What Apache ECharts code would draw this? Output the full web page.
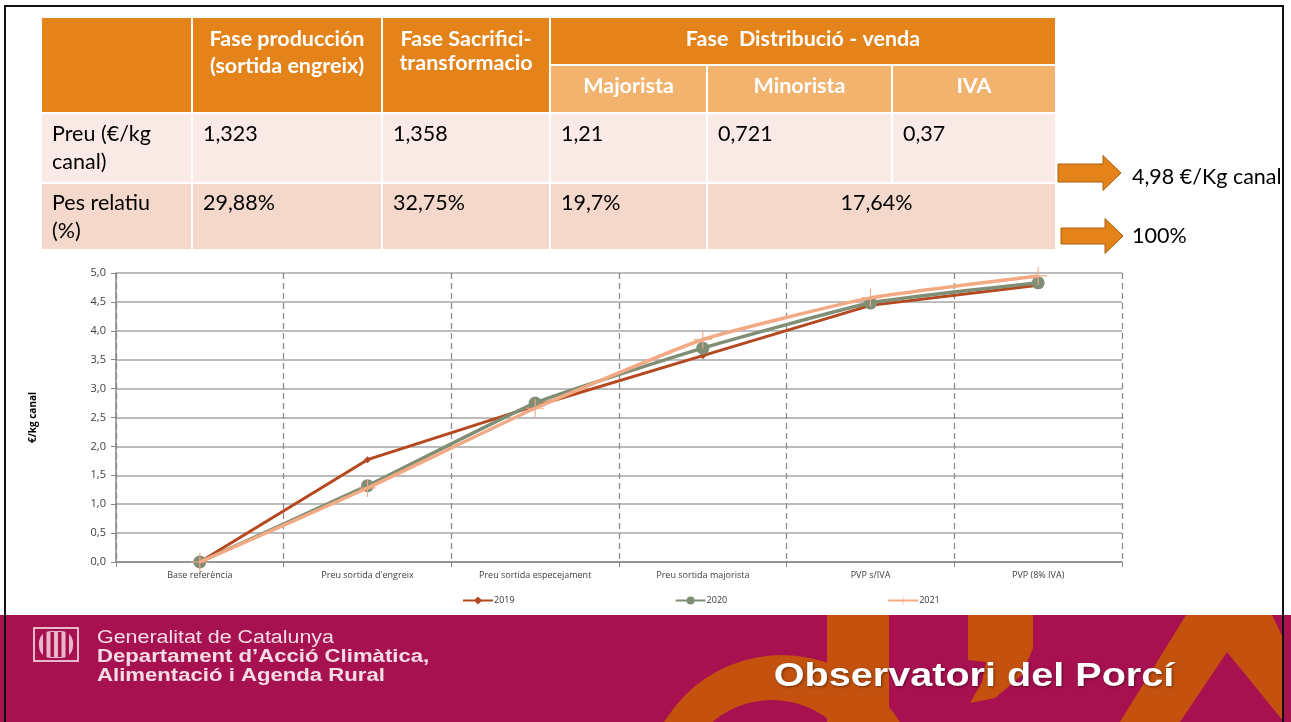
<!DOCTYPE html>
<html>
<head>
<meta charset="utf-8">
<script src="https://cdn.jsdelivr.net/npm/echarts@6/dist/echarts.min.js"></script>
<style>
html,body{margin:0;padding:0;background:#fff;}
#main{width:1291px;height:722px;}
</style>
</head>
<body>
<div id="main"></div>
<script>
// ---- chart data ----
const categories = ['Base referència', "Preu sortida d'engreix", 'Preu sortida especejament', 'Preu sortida majorista', 'PVP s/IVA', 'PVP (8% IVA)'];
const s2019 = [0, 1.77, 2.70, 3.57, 4.44, 4.79];
const s2020 = [0, 1.32, 2.75, 3.70, 4.48, 4.83];
const s2021 = [0, 1.28, 2.66, 3.85, 4.57, 4.95];
const seriesNames = ['2019', '2020', '2021'];
const yTicks = [0, 0.5, 1, 1.5, 2, 2.5, 3, 3.5, 4, 4.5, 5];

// ---- table data ----
const headerCols = [['', ''], ['Fase producción', '(sortida engreix)'], ['Fase Sacrifici-', 'transformacio']];
const distribHeader = 'Fase  Distribució - venda';
const subHeaders = ['Majorista', 'Minorista', 'IVA'];
const rowLabels = [['Preu (€/kg', 'canal)'], ['Pes relatiu', '(%)']];
const preuValues = ['1,323', '1,358', '1,21', '0,721', '0,37'];
const pesValues = ['29,88%', '32,75%', '19,7%'];
const pesMerged = '17,64%';
const totals = ['4,98 €/Kg canal', '100%'];

// ---- footer text ----
const deptLines = ['Generalitat de Catalunya', 'Departament d\u2019Acció Climàtica,', 'Alimentació i Agenda Rural'];
const observatori = 'Observatori del Porcí';

const ORANGE = '#E3831A', SUB = '#F2B36E', ROW1 = '#FAEAE5', ROW2 = '#F5D8CC';
const MAGENTA = '#A81150', FOOT_OR = '#C4520E';
const FONT = 'Lato, "Open Sans", sans-serif';
const HFONT = 'bold 21.5px ' + FONT;
const BFONT = '21.5px ' + FONT;

const colX = [42, 193, 383, 551, 708, 893, 1057];
const g = [];
function rect(x, y, w, h, fill, z) { g.push({type:'rect', shape:{x, y, width:w, height:h}, style:{fill}, z: z || 1, silent:true}); }
function txt(x, y, t, opt) {
  const el = {type:'text', x, y, z: (opt && opt.z) || 5, silent:true, style: Object.assign({text:t, fill:'#000', font:BFONT, textAlign:'left', textVerticalAlign:'middle'}, opt && opt.style)};
  if (opt && opt.scaleX) el.scaleX = opt.scaleX;
  g.push(el);
}
// header cols
for (let i = 0; i < 3; i++) {
  rect(colX[i], 18, colX[i+1] - colX[i] - 2, 94, ORANGE);
  const cx = (colX[i] + colX[i+1] - 2) / 2;
  txt(cx, 39, headerCols[i][0], {style:{fill:'#fff', font:HFONT, textAlign:'center'}});
  txt(cx, i === 1 ? 66 : 63, headerCols[i][1], {style:{fill:'#fff', font:HFONT, textAlign:'center'}});
}
rect(colX[3], 18, colX[6] - colX[3] - 2, 46, ORANGE);
txt((colX[3] + colX[6] - 2) / 2, 39, distribHeader, {style:{fill:'#fff', font:HFONT, textAlign:'center'}});
for (let i = 0; i < 3; i++) {
  rect(colX[3+i], 66, colX[4+i] - colX[3+i] - 2, 46, SUB);
  txt((colX[3+i] + colX[4+i] - 2) / 2, 86, subHeaders[i], {style:{fill:'#fff', font:HFONT, textAlign:'center'}});
}
// rows
for (let i = 0; i < 6; i++) {
  rect(colX[i], 114, colX[i+1] - colX[i] - 2, 68, ROW1);
}
for (let i = 0; i < 4; i++) {
  rect(colX[i], 184, colX[i+1] - colX[i] - 2, 65, ROW2);
}
rect(colX[4], 184, colX[6] - colX[4] - 2, 65, ROW2);
txt(52, 134, rowLabels[0][0]); txt(52, 162, rowLabels[0][1]);
txt(52, 203, rowLabels[1][0]); txt(52, 231, rowLabels[1][1]);
preuValues.forEach((v, i) => txt(colX[i+1] + 10, 134, v));
pesValues.forEach((v, i) => txt(colX[i+1] + 10, 203, v));
txt((colX[4] + colX[6]) / 2 - 6, 203, pesMerged, {style:{textAlign:'center'}});

// arrows
function arrow(x0, yc, bodyW, bodyH, headW, headH) {
  const pts = [[x0, yc - bodyH/2], [x0 + bodyW, yc - bodyH/2], [x0 + bodyW, yc - headH/2], [x0 + bodyW + headW, yc], [x0 + bodyW, yc + headH/2], [x0 + bodyW, yc + bodyH/2], [x0, yc + bodyH/2]];
  g.push({type:'polygon', shape:{points:pts}, style:{fill:ORANGE, stroke:'#A9600F', lineWidth:1}, z:3, silent:true});
}
arrow(1058, 173, 45, 18, 18, 35);
arrow(1061, 236, 44, 16, 18, 35);
txt(1132, 177, totals[0]);
txt(1132, 236, totals[1]);

// footer
rect(0, 615, 1291, 107, MAGENTA, 1);
g.push({type:'circle', shape:{cx:782, cy:792, r:137}, style:{fill:FOOT_OR}, z:2, silent:true});
g.push({type:'circle', shape:{cx:772, cy:792, r:92}, style:{fill:MAGENTA}, z:2, silent:true});
rect(827, 615, 62, 107, FOOT_OR, 2);
g.push({type:'polygon', shape:{points:[[968,615],[1033,615],[1033,648],[1022,675],[995,698],[970,703],[982,682],[986,662],[968,660]]}, style:{fill:FOOT_OR}, z:2, silent:true});
g.push({type:'polygon', shape:{points:[[1186,615],[1272,615],[1284,640],[1284,722],[1120,722]]}, style:{fill:FOOT_OR}, z:2, silent:true});
g.push({type:'polygon', shape:{points:[[1227,652],[1284,722],[1180,722]]}, style:{fill:MAGENTA}, z:2, silent:true});
// logo
g.push({type:'rect', shape:{x:34, y:628, width:44, height:33}, style:{fill:'none', stroke:'#E6B8C8', lineWidth:2}, z:3, silent:true});
g.push({type:'rect', shape:{x:39, y:631, width:34, height:27, r:12}, style:{fill:'#E6B8C8'}, z:3, silent:true});
for (let i = 0; i < 4; i++) rect(43 + i * 7.5, 632, 3.5, 25, MAGENTA, 4);
const FF = '"Liberation Sans", Arial, sans-serif';
txt(97, 638, deptLines[0], {scaleX:1.19, style:{fill:'#F3DCE4', font:'18px ' + FF}});
txt(97, 657, deptLines[1], {scaleX:1.23, style:{fill:'#F3DCE4', font:'bold 18px ' + FF}});
txt(97, 676, deptLines[2], {scaleX:1.23, style:{fill:'#F3DCE4', font:'bold 18px ' + FF}});
txt(974, 677, observatori, {z:6, scaleX:1.2, style:{fill:'#fff', font:'bold 33px ' + FF, textAlign:'center', textShadowColor:'rgba(0,0,0,0.45)', textShadowBlur:3, textShadowOffsetX:1, textShadowOffsetY:1}});

// slide border
g.push({type:'polyline', shape:{points:[[5,722],[5,6],[1283,6],[1283,722]]}, style:{stroke:'#111', lineWidth:2, fill:'none'}, z:10, silent:true});

const plusPath = 'path://M9.4,0h1.2v9.4h9.4v1.2h-9.4v9.4h-1.2v-9.4h-9.4v-1.2h9.4z';
const chart = echarts.init(document.getElementById('main'), null, {renderer:'canvas'});
chart.setOption({
  backgroundColor: '#fff',
  animation: false,
  grid: {left:116, right:169, top:273, bottom:160, containLabel:false},
  legend: {
    data: seriesNames, top: 591, left: 457, itemGap: 160, itemWidth: 30, itemHeight: 10,
    textStyle: {fontSize: 9, color: '#333', fontFamily: '"Open Sans", sans-serif', padding:[0,0,0,-4]}
  },
  xAxis: {
    type: 'category', data: categories, boundaryGap: true,
    axisLine: {lineStyle: {color: '#868686', width: 1.5}},
    axisTick: {show: true, length: 5, lineStyle: {color: '#868686'}},
    axisLabel: {fontSize: 9, color: '#404040', margin: 9, interval: 0, fontFamily: '"Open Sans", sans-serif'},
    splitLine: {show: true, lineStyle: {type: [6, 4], color: '#8C8C8C', width: 1.3}}
  },
  yAxis: {
    type: 'value', min: yTicks[0], max: yTicks[yTicks.length - 1], interval: 0.5,
    name: '€/kg canal', nameLocation: 'middle', nameGap: 78,
    nameTextStyle: {fontSize: 10, fontWeight: 'bold', color: '#000', fontFamily: '"Open Sans", sans-serif'},
    axisLine: {show: true, lineStyle: {color: '#868686', width: 1.5}},
    axisTick: {show: true, length: 5, lineStyle: {color: '#868686'}},
    axisLabel: {fontSize: 11, color: '#404040', margin: 10, fontFamily: '"Open Sans", sans-serif',
      formatter: v => v.toFixed(1).replace('.', ',')},
    splitLine: {show: true, lineStyle: {color: '#A6A6A6', width: 1.5}}
  },
  series: [
    {name: seriesNames[0], type: 'line', data: s2019, smooth: false, symbol: 'diamond', symbolSize: 7,
      lineStyle: {width: 3, color: '#B5481E'}, itemStyle: {color: '#B5481E'}, z: 3},
    {name: seriesNames[1], type: 'line', data: s2020, smooth: 0.15, symbol: 'circle', symbolSize: 13,
      lineStyle: {width: 3.5, color: '#7F8E75'}, itemStyle: {color: '#7F8E75'}, z: 4},
    {name: seriesNames[2], type: 'line', data: s2021, smooth: 0.15, symbol: plusPath, symbolSize: 18,
      lineStyle: {width: 3.5, color: '#F1AA84'}, itemStyle: {color: '#F1AA84'}, z: 5}
  ],
  graphic: g
});
</script>
</body>
</html>
